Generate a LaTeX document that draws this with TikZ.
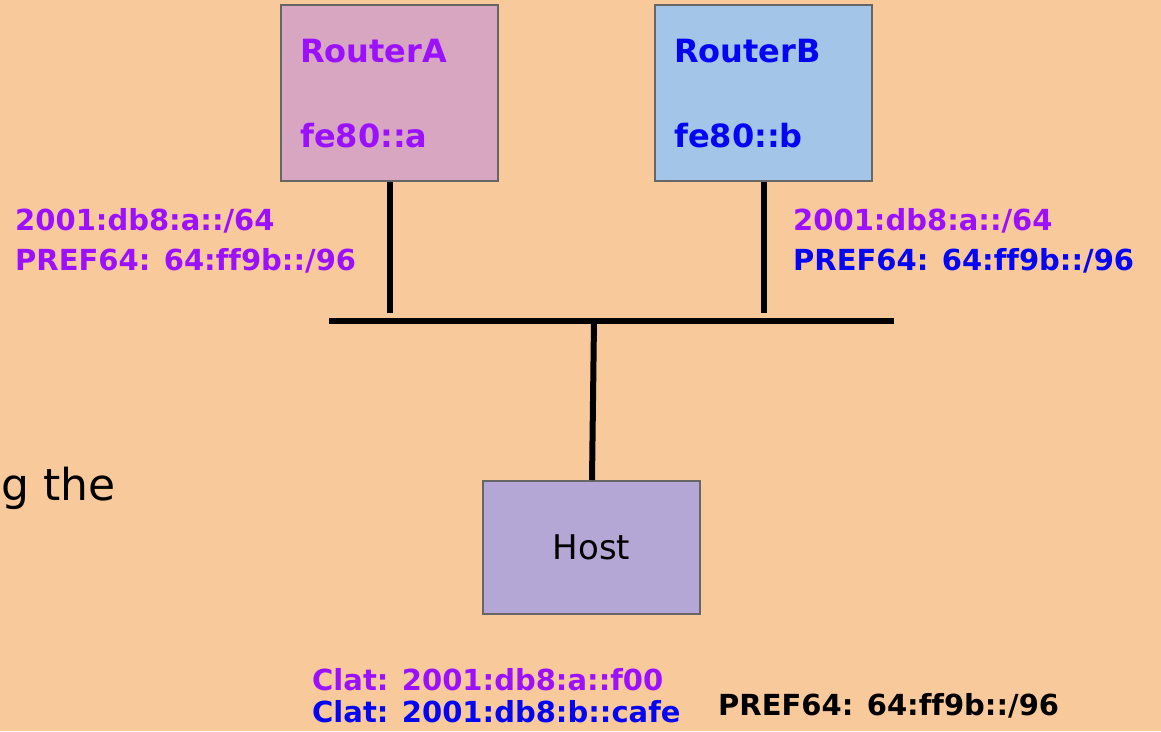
\documentclass[tikz,border=0pt]{standalone}
\usepackage{fontspec}
\setmainfont{DejaVu Sans}[Ligatures=NoCommon]
\usepackage{tikz}
\usetikzlibrary{positioning}
\definecolor{slidebg}{HTML}{F8C99B}
\definecolor{boxA}{HTML}{D8A6C0}
\definecolor{boxB}{HTML}{A2C5E8}
\definecolor{boxH}{HTML}{B4A7D6}
\definecolor{textA}{HTML}{9B10FF}
\definecolor{textB}{HTML}{0505F5}
\tikzset{
  devbox/.style ={rectangle, draw=black!60, line width=2pt, inner sep=0pt},
  router/.style ={devbox, minimum width=217pt, minimum height=176pt},
  hostbox/.style={devbox, minimum width=217pt, minimum height=133pt},
  lbl/.style    ={anchor=base west, inner sep=0pt,
                  font=\fontsize{29}{35}\selectfont\bfseries},
  rname/.style  ={anchor=base west, inner sep=0pt,
                  font=\fontsize{32}{40}\selectfont\bfseries},
  wire/.style   ={draw=black, line width=6pt},
}
\begin{document}
\begin{tikzpicture}[x=1pt,y=-1pt]
\useasboundingbox (0,0) rectangle (1161,731);
\fill[slidebg] (0,0) rectangle (1161,731);
% --- the two routers and the host ---
\node[router,fill=boxA] (rA) at (389.5,93) {};
\node[router,fill=boxB] (rB) at (763,93) {};
\node[hostbox,fill=boxH] (host) at (591.5,547.5) {};
\node[rname,textA] (rAname) at (300,62) {RouterA};
\node[rname,textA] (rAll)   at (300,147) {fe80::a};
\node[rname,textB] (rBname) at (674,62) {RouterB};
\node[rname,textB] (rBll)   at (674,147) {fe80::b};
\node[font=\fontsize{34}{40}\selectfont] (hostname) at (host.center) {Host};
% --- shared link ---
\coordinate (busL) at (329,321);
\coordinate (busR) at (894,321);
\coordinate (tapA) at (390,313);
\coordinate (tapB) at (764,313);
\coordinate (tapH) at (594,321);
\draw[wire] (busL) -- (busR);
\draw[wire] (rA.south -| tapA) -- (tapA);
\draw[wire] (rB.south -| tapB) -- (tapB);
\draw[wire] (tapH) -- (host.north -| 592,0);
% --- router advertisements ---
\node[lbl,textA] (raApfx) at (15,230) {2001:db8:a::/64};
\node[lbl,textA] (raApre) at (15,270) {PREF64: 64:ff9b::/96};
\node[lbl,textA] (raBpfx) at (793,230) {2001:db8:a::/64};
\node[lbl,textB] (raBpre) at (793,270) {PREF64: 64:ff9b::/96};
% --- host state ---
\node[lbl,textA] (clatA) at (312,690) {Clat: 2001:db8:a::f00};
\node[lbl,textB] (clatB) at (312,722) {Clat: 2001:db8:b::cafe};
\node[lbl] (hostpre) at (718,715) {PREF64: 64:ff9b::/96};
\node[anchor=base west,inner sep=0pt,font=\fontsize{44}{50}\selectfont]
  (cuttext) at (1,500) {g the};
\end{tikzpicture}
\end{document}
